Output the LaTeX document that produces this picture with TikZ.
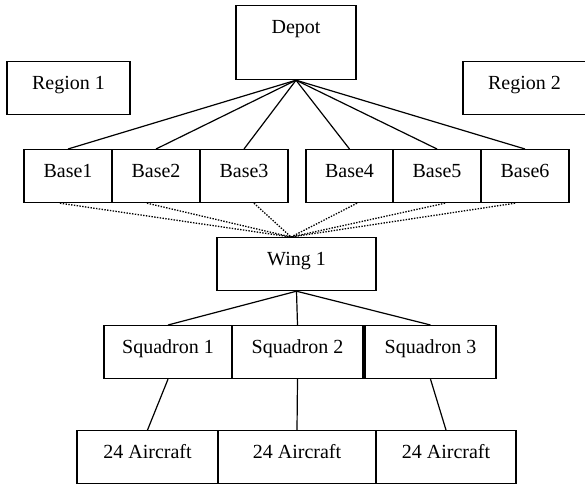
\documentclass[tikz,border=0pt]{standalone}
\usepackage{fontspec}
\setmainfont{Liberation Serif}
\begin{document}
\begin{tikzpicture}[x=1pt,y=-1pt,
  box/.style={draw, line width=1.2pt, inner xsep=0pt, inner ysep=0pt, anchor=north,
              text height=28pt, text depth=25pt, font=\fontsize{20}{24}\selectfont},
  link/.style={line width=1.2pt},
  dotlink/.style={line width=1.3pt, dash pattern=on 1.4pt off 1.4pt}]
\useasboundingbox (0,0) rectangle (585,484);
% top level
\node[box, minimum width=120pt, text depth=46pt] (depot) at (296,5) {Depot};
\node[box, minimum width=123pt] (r1) at (68.5,61) {Region 1};
\node[box, minimum width=123pt] (r2) at (524.5,61) {Region 2};
% bases
\node[box, minimum width=88pt] (b1) at (68,149) {Base1};
\node[box, minimum width=88pt] (b2) at (156,149) {Base2};
\node[box, minimum width=88pt] (b3) at (244,149) {Base3};
\node[box, minimum width=87pt] (b4) at (349.5,149) {Base4};
\node[box, minimum width=88pt] (b5) at (437,149) {Base5};
\node[box, minimum width=88pt] (b6) at (525,149) {Base6};
% wing
\node[box, minimum width=159pt] (wing) at (296.5,237) {Wing 1};
\coordinate (conv) at (291,237);
% squadrons
\node[box, minimum width=128pt] (s1) at (168,325) {Squadron 1};
\node[box, minimum width=131pt] (s2) at (297.5,325) {Squadron 2};
\node[box, minimum width=131pt] (s3) at (430.5,325) {Squadron 3};
% aircraft
\node[box, minimum width=141pt] (a1) at (147.5,430) {24 Aircraft};
\node[box, minimum width=158pt] (a2) at (297,430) {24 Aircraft};
\node[box, minimum width=140pt] (a3) at (446,430) {24 Aircraft};
% depot links
\foreach \b in {b1,b2,b3,b4,b5,b6}
  \draw[link] (depot.south) -- (\b.north);
% dotted links
\draw[dotlink] ([xshift=-8pt]b1.south) -- (conv);
\draw[dotlink] ([xshift=-9pt]b2.south) -- (conv);
\draw[dotlink] ([xshift=10pt]b3.south) -- (conv);
\draw[dotlink] ([xshift=7.5pt]b4.south) -- (conv);
\draw[dotlink] ([xshift=8pt]b5.south) -- (conv);
\draw[dotlink] ([xshift=-10pt]b6.south) -- (conv);
% wing links
\foreach \s in {s1,s2,s3}
  \draw[link] (wing.south) -- (\s.north);
% squadron links
\draw[link] (s1.south) -- (a1.north);
\draw[link] (s2.south) -- (a2.north);
\draw[link] (s3.south) -- (a3.north);
\end{tikzpicture}
\end{document}
